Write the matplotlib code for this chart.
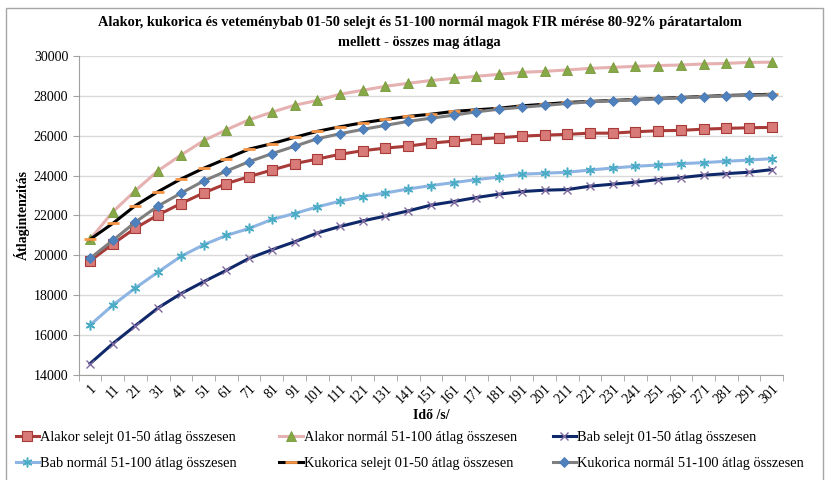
import matplotlib.pyplot as plt
from matplotlib.patches import Rectangle

plt.rcParams['font.family'] = ['Liberation Serif', 'DejaVu Serif']

# Idő /s/ kategóriák
ido = [str(t) for t in range(1, 302, 10)]

alakor_selejt = [19720, 20570, 21370, 22030, 22600, 23130, 23600, 23950,
                 24280, 24600, 24830, 25070, 25250, 25380, 25480,
                 25630, 25730, 25830, 25900, 25980, 26030, 26070, 26130,
                 26130, 26200, 26250, 26270, 26330, 26370, 26400, 26420]
alakor_normal = [20800, 22180, 23250, 24250, 25030, 25750, 26300, 26800,
                 27180, 27530, 27770, 28080, 28280, 28480, 28630,
                 28770, 28880, 28980, 29080, 29180, 29230, 29300, 29380,
                 29430, 29480, 29520, 29550, 29600, 29630, 29680, 29690]
bab_selejt = [14570, 15570, 16480, 17370, 18080, 18680, 19250, 19850,
              20280, 20680, 21120, 21450, 21730, 21970, 22230,
              22520, 22700, 22900, 23070, 23200, 23270, 23300, 23470,
              23570, 23670, 23800, 23900, 24020, 24100, 24170, 24300]
bab_normal = [16500, 17500, 18370, 19170, 19950, 20530, 21000, 21350,
              21800, 22100, 22430, 22720, 22950, 23130, 23330,
              23500, 23650, 23800, 23930, 24070, 24120, 24170, 24280,
              24380, 24470, 24530, 24600, 24650, 24720, 24780, 24850]
kukorica_selejt = [20800, 21600, 22500, 23200, 23830, 24370, 24850, 25330,
                   25600, 25920, 26220, 26450, 26650, 26820, 26970,
                   27080, 27220, 27300, 27380, 27500, 27580, 27670, 27720,
                   27770, 27820, 27870, 27920, 27970, 28020, 28050, 28080]
kukorica_normal = [19850, 20750, 21670, 22480, 23120, 23730, 24230, 24700,
                   25100, 25470, 25850, 26100, 26320, 26520, 26720,
                   26880, 27030, 27200, 27330, 27430, 27520, 27620, 27700,
                   27750, 27800, 27850, 27900, 27950, 28000, 28030, 28050]

series = [
    ("Alakor selejt 01-50 átlag összesen", alakor_selejt,
     dict(color='#A83A38', marker='s', markersize=6.5, markerfacecolor='#D77A78',
          markeredgecolor='#A83A38', markeredgewidth=0.8)),
    ("Bab normál 51-100 átlag összesen", bab_normal,
     dict(color='#8DB4E2', marker=(6, 2, 0), markersize=7, markerfacecolor='none',
          markeredgecolor='#4BACC6', markeredgewidth=1.1)),
    ("Alakor normál 51-100 átlag összesen", alakor_normal,
     dict(color='#E6B1B1', marker='^', markersize=7, markerfacecolor='#86A846',
          markeredgecolor='#76983A', markeredgewidth=0.6)),
    ("Kukorica selejt 01-50 átlag összesen", kukorica_selejt,
     dict(color='#000000', marker='_', markersize=8, markeredgecolor='#F79646',
          markeredgewidth=2)),
    ("Bab selejt 01-50 átlag összesen", bab_selejt,
     dict(color='#0F2869', marker='x', markersize=6, markeredgecolor='#7F6A9F',
          markeredgewidth=1.0)),
    ("Kukorica normál 51-100 átlag összesen", kukorica_normal,
     dict(color='#7F7F7F', marker='D', markersize=5.5, markerfacecolor='#4F81BD',
          markeredgecolor='#4A7AB5', markeredgewidth=0.6)),
]

fig = plt.figure(figsize=(8.34, 4.8), dpi=100)
ax = fig.add_axes([0.0943, 0.21875, 0.8447, 0.6646])

x = list(range(len(ido)))
handles = []
for name, vals, st in series:
    ln, = ax.plot(x, vals, linewidth=2.2, label=name, zorder=3, **st)
    handles.append(ln)

ax.set_xlim(-0.5, len(ido) - 0.5)
ax.set_ylim(14000, 30000)
ax.set_yticks(range(14000, 30001, 2000))
ax.set_xticks(x)
ax.set_xticklabels(ido, rotation=45, ha='right', va='top', rotation_mode='anchor',
                   fontsize=10)
ax.set_xticks([i - 0.5 for i in range(len(ido) + 1)], minor=True)
ax.tick_params(axis='x', which='major', length=0, pad=5)
ax.tick_params(axis='x', which='minor', length=4, color='#A0A0A0')
ax.tick_params(axis='y', length=4, color='#A0A0A0', labelsize=10)
ax.grid(axis='y', color='#D9D9D9', linewidth=1)
ax.set_axisbelow(True)
for s in ['top', 'right']:
    ax.spines[s].set_visible(False)
for s in ['left', 'bottom']:
    ax.spines[s].set_color('#A0A0A0')

ax.set_ylabel("Átlagintenzitás", fontweight='bold', fontsize=10, labelpad=3)
ax.set_xlabel("Idő /s/", fontweight='bold', fontsize=10, labelpad=2)

fig.text(0.503, 0.932, "Alakor, kukorica és veteménybab 01-50 selejt és 51-100 normál magok FIR mérése 80-92% páratartalom\nmellett - összes mag átlaga",
         ha='center', va='center', fontsize=10.4, fontweight='bold', linespacing=1.65)

# legend: három oszlop, két sor
cols_x = [0.019, 0.335, 0.663]
for k in range(3):
    fig.legend(handles=handles[2 * k:2 * k + 2], loc='upper left',
               bbox_to_anchor=(cols_x[k], 0.102), frameon=False, fontsize=10.4,
               handlelength=1.6, handletextpad=0.1, labelspacing=0.88,
               borderaxespad=0, borderpad=0)

fig.patches.append(Rectangle((6 / 834, -0.01), 817 / 834, 1 - 8 / 480 + 0.01,
                             transform=fig.transFigure, fill=False,
                             edgecolor='#A6A6A6', linewidth=1))

fig.savefig("out.png", dpi=100)
